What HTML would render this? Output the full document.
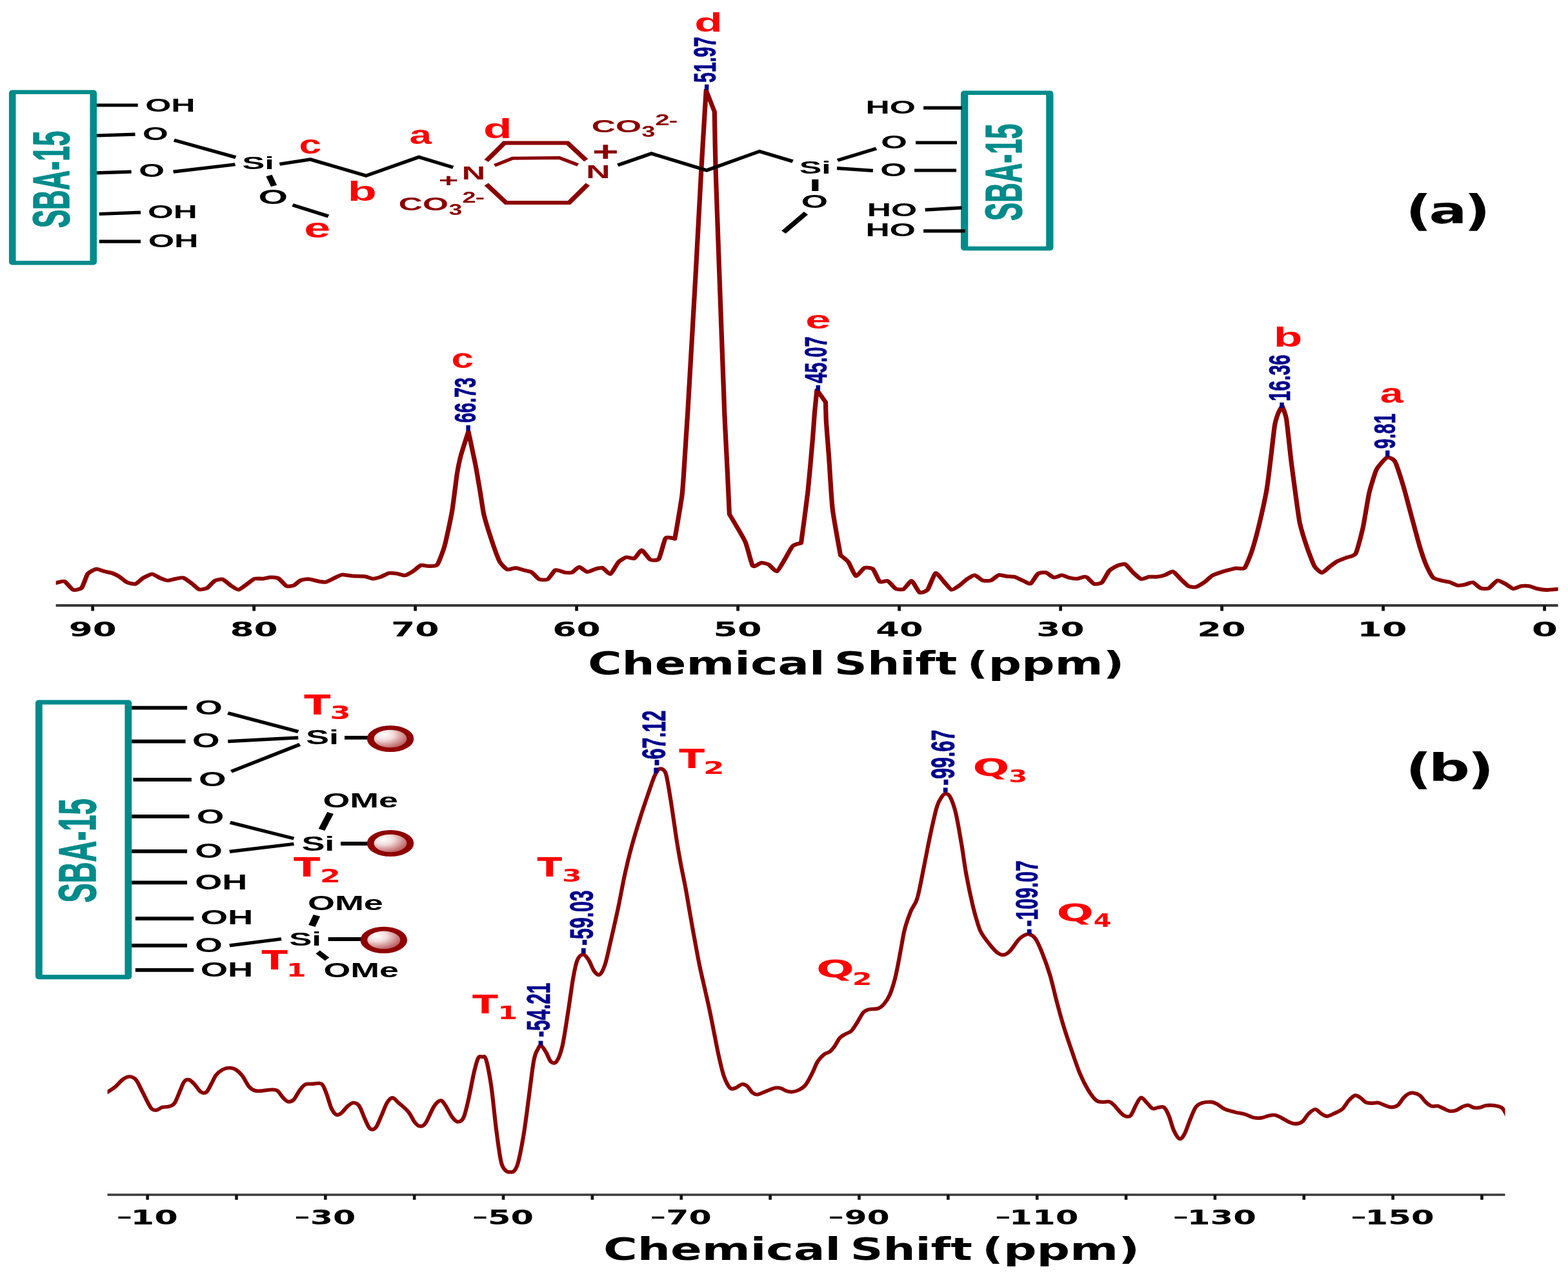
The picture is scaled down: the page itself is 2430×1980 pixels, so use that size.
<!DOCTYPE html>
<html lang="en"><head><meta charset="utf-8"><title>Solid-state NMR spectra</title>
<style>
html,body{margin:0;padding:0;background:#fff}
body{width:2430px;height:1980px;overflow:hidden}
svg{display:block;filter:blur(0.6px)}
text{white-space:pre}
.LB{font-family:"Liberation Sans",sans-serif;font-weight:bold}
.LR{font-family:"Liberation Sans",sans-serif;font-weight:normal}
.DR{font-family:"DejaVu Sans","Liberation Sans",sans-serif;font-weight:normal}
.DB{font-family:"DejaVu Sans","Liberation Sans",sans-serif;font-weight:bold}
</style></head><body>
<svg xmlns="http://www.w3.org/2000/svg" width="2430" height="1980" viewBox="0 0 2430 1980">
<rect width="2430" height="1980" fill="#fff"/>
<defs><clipPath id="ca"><rect x="86.6" y="0" width="2328" height="1000"/></clipPath><clipPath id="cb"><rect x="166.5" y="1000" width="2166" height="980"/></clipPath></defs>
<g clip-path="url(#ca)">
<g transform="scale(1.25,1)"><path d="M64 904.5C64.48 904.38 67.82 903.55 69.28 903.2C70.74 902.85 77.97 899.74 79.92 900.7C81.87 901.66 88.61 912.77 90.56 913.7C92.51 914.63 99.53 913.06 101.2 910.8C102.87 908.54 107.13 891.67 108.8 889C110.47 886.33 117.49 882.02 119.44 881.7C121.39 881.38 128.27 884.92 130.08 885.5C131.89 886.08 137.53 887.25 139.2 888C140.87 888.75 146.65 892.39 148.32 893.7C149.99 895.01 155.63 901.29 157.44 902.3C159.25 903.31 166.27 905.31 168.08 904.7C169.89 904.09 175.32 897.01 177.2 895.6C179.08 894.19 186.69 889.3 188.64 889.3C190.59 889.3 196.67 894.67 198.48 895.6C200.29 896.53 206.59 899.31 208.4 899.4C210.21 899.49 216.5 896.99 218.24 896.6C219.98 896.22 225.55 894.5 227.36 895.2C229.17 895.9 236.19 902.54 238 904.2C239.81 905.86 245.37 912.69 247.12 913.3C248.87 913.9 255.29 912.04 257.04 910.8C258.79 909.56 264.42 901.02 266.16 899.8C267.9 898.58 274.19 896.84 276 897.5C277.81 898.16 284.1 905.51 285.92 907C287.74 908.49 293.96 913.91 295.84 913.7C297.72 913.49 304.67 906.27 306.48 904.7C308.29 903.13 313.79 897.34 315.6 896.6C317.41 895.86 324.43 896.81 326.24 896.6C328.05 896.39 333.62 894.35 335.36 894.3C337.1 894.25 343.39 894.74 345.2 896C347.01 897.26 353.37 906.99 355.12 908C356.87 909.01 362.69 907.78 364.24 907C365.79 906.22 370.73 900.37 372 899.5C373.27 898.63 376.89 897.68 378.08 897.5C379.27 897.32 383.43 897.21 384.96 897.5C386.49 897.79 393.06 900.32 394.8 900.7C396.54 901.09 402.11 902.17 403.92 901.7C405.73 901.23 412.75 896.63 414.56 895.6C416.37 894.57 421.59 890.79 423.68 890.5C425.77 890.21 434.71 892.16 437.36 892.4C440.01 892.64 450.26 892.72 452.56 893.1C454.86 893.49 460.59 896.55 462.4 896.6C464.21 896.65 470.5 894.49 472.32 893.7C474.14 892.91 480.43 888.47 482.24 888C484.05 887.53 490.27 888.29 492.08 888.6C493.89 888.91 500.19 891.71 502 891.4C503.81 891.09 510.03 886.64 511.84 885.2C513.65 883.76 519.95 876.43 521.76 875.7C523.57 874.97 529.72 877.29 531.6 877.2C533.48 877.11 540.43 877.63 542.24 874.7C544.05 871.77 549.69 852.78 551.36 845.2C553.03 837.62 559.09 802.1 560.48 792C561.87 781.9 565.58 742.84 566.56 735C567.54 727.16 569.9 712.6 571.2 706.5C572.5 700.4 580.72 668.5 580.72 668.5C580.72 668.5 588.08 711.09 589.44 719.8C590.8 728.51 594.55 756.36 595.52 763.5C596.49 770.64 598.61 790.56 600 797.7C601.39 804.84 608.9 834.69 610.72 841.4C612.54 848.11 618.17 867.15 619.84 870.9C621.51 874.65 627.15 881.48 628.96 882.3C630.77 883.12 637.65 879.68 639.6 879.8C641.55 879.92 648.43 882.97 650.24 883.6C652.05 884.23 657.69 885.43 659.36 886.7C661.03 887.97 666.67 896.51 668.48 897.5C670.29 898.49 677.31 898.8 679.12 897.5C680.93 896.2 686.69 884.43 688.24 883.3C689.79 882.17 694.87 884.86 696 885.2C697.13 885.54 699.37 886.84 700.56 887C701.75 887.16 707.35 887.78 708.96 887C710.57 886.22 716.34 878.58 718.08 878.5C719.82 878.42 726.11 885.81 727.92 886.1C729.73 886.39 736.09 882.28 737.84 881.7C739.59 881.12 745.22 879.1 746.96 879.8C748.7 880.5 754.99 890.12 756.8 889.3C758.61 888.48 764.91 873.28 766.72 870.9C768.53 868.52 774.75 863.82 776.56 863.3C778.37 862.78 784.73 866.19 786.48 865.2C788.23 864.21 793.79 852.33 795.6 852.5C797.41 852.67 804.29 865.88 806.24 867.1C808.19 868.32 815.14 868.85 816.88 865.8C818.62 862.75 823.39 836.64 825.2 833.8C827.01 830.96 836.64 834.8 836.64 834.8C836.64 834.8 844.57 778.03 845.76 765.4C846.95 752.77 848.98 708.5 849.6 697C850.22 685.5 851.35 665.58 852.56 640C853.77 614.42 861.24 452.83 862.8 418C864.36 383.17 868.44 285.48 869.6 260C870.76 234.52 875.44 140 875.44 140C875.44 140 885.84 173 885.84 173C885.84 173 886.66 237.54 887.2 260C887.74 282.46 890.67 383.17 891.68 418C892.69 452.83 897.36 612.68 898.24 640C899.12 667.32 900.72 701.63 901.28 716C901.84 730.37 904.32 796.8 904.32 796.8C904.32 796.8 921.35 832.18 924 839.5C926.65 846.82 931.38 873.63 933.2 876.6C935.02 879.57 942.03 872.07 943.84 871.9C945.65 871.73 951.19 873.48 952.96 874.7C954.73 875.92 961.31 885.9 963.12 885.2C964.93 884.5 970.94 870.68 972.72 867.1C974.5 863.52 980.68 848.56 982.56 846.2C984.44 843.84 993.2 841.4 993.2 841.4C993.2 841.4 1000.27 776.58 1001.6 761.6C1002.93 746.62 1006.92 689.15 1007.68 678C1008.44 666.85 1009.45 646.76 1009.92 640C1010.39 633.24 1012.8 604.3 1012.8 604.3C1012.8 604.3 1023.6 623 1023.6 623C1023.6 623 1024.03 647.35 1024.4 655C1024.77 662.65 1026.89 694.29 1027.6 706.5C1028.31 718.71 1030.83 774.09 1032.16 788.2C1033.49 802.31 1042.08 860.4 1042.08 860.4C1042.08 860.4 1050.18 867.97 1051.92 870.9C1053.66 873.83 1059.23 891.58 1061.04 892.4C1062.85 893.22 1069.73 880.78 1071.68 879.8C1073.63 878.82 1080.57 879.73 1082.32 881.7C1084.07 883.67 1089.05 899.62 1090.72 901.3C1092.39 902.98 1098.75 899.01 1100.56 900C1102.37 900.99 1108.67 910.94 1110.48 912.1C1112.29 913.26 1118.51 913.81 1120.32 912.7C1122.13 911.59 1128.43 899.53 1130.24 900C1132.05 900.47 1138.27 916.54 1140.08 917.8C1141.89 919.06 1148.19 916.43 1150 913.7C1151.81 910.97 1158.03 889.22 1159.84 888C1161.65 886.78 1167.95 898.04 1169.76 900.4C1171.57 902.76 1177.79 913.1 1179.6 913.7C1181.41 914.31 1187.77 908.49 1189.52 907C1191.27 905.51 1196.89 898.95 1198.64 897.5C1200.39 896.05 1206.75 891.03 1208.56 891.2C1210.37 891.37 1216.59 898.65 1218.4 899.4C1220.21 900.15 1226.51 900.18 1228.32 899.4C1230.13 898.62 1236.35 891.5 1238.16 890.9C1239.97 890.29 1246.27 892.54 1248.08 892.8C1249.89 893.06 1256.11 893.1 1257.92 893.7C1259.73 894.31 1266.03 898.44 1267.84 899.4C1269.65 900.36 1275.94 905.15 1277.68 904.2C1279.42 903.25 1285.05 890.58 1286.8 889C1288.55 887.42 1294.91 886.48 1296.72 887C1298.53 887.52 1304.75 894.32 1306.56 894.7C1308.37 895.09 1314.73 891.17 1316.48 891.2C1318.23 891.23 1323.86 894.5 1325.6 895C1327.34 895.5 1333.75 896.72 1335.44 896.6C1337.13 896.48 1342.86 893.87 1344 893.7C1345.14 893.53 1346.73 893.71 1347.84 894.7C1348.95 895.69 1354.49 903.78 1356.16 904.5C1357.83 905.22 1364.33 904.46 1366.08 902.6C1367.83 900.74 1373.46 886.58 1375.2 884.2C1376.94 881.82 1383.23 877.53 1385.04 876.6C1386.85 875.67 1393.15 873.15 1394.96 874.1C1396.77 875.05 1402.99 884.9 1404.8 887C1406.61 889.1 1412.91 896.39 1414.72 897C1416.53 897.61 1422.75 894 1424.56 893.7C1426.37 893.4 1432.67 893.96 1434.48 893.7C1436.29 893.44 1442.51 891.65 1444.32 890.9C1446.13 890.15 1452.43 884.89 1454.24 885.5C1456.05 886.11 1462.34 895.44 1464.08 897.5C1465.82 899.56 1471.53 906.9 1473.2 908C1474.87 909.1 1480.51 910.02 1482.32 909.5C1484.13 908.98 1491.08 903.92 1492.96 902.3C1494.84 900.68 1501.06 893.2 1502.88 891.8C1504.7 890.4 1510.99 887.78 1512.8 887C1514.61 886.22 1520.83 883.9 1522.64 883.3C1524.45 882.69 1530.68 880.72 1532.56 880.4C1534.44 880.08 1541.39 882.33 1543.2 879.8C1545.01 877.27 1550.65 859.11 1552.32 852.8C1553.99 846.49 1559.77 819.71 1561.44 811C1563.11 802.29 1569.24 767.38 1570.56 757.8C1571.88 748.22 1574.94 715.56 1575.84 706.5C1576.74 697.44 1579.58 665.1 1580.4 659C1581.22 652.9 1583.96 642.75 1584.8 640C1585.64 637.25 1589.6 629 1589.6 629C1589.6 629 1593.84 641.52 1594.88 649.5C1595.92 657.48 1599.85 704.68 1600.96 716C1602.07 727.32 1606.06 764.29 1607.04 773C1608.02 781.71 1610.35 804.03 1611.6 811C1612.85 817.97 1619.05 842.89 1620.72 849C1622.39 855.11 1628.17 874.08 1629.84 877.6C1631.51 881.12 1637.21 887.4 1638.96 887.4C1640.71 887.4 1647.06 879.29 1648.88 877.6C1650.7 875.91 1656.99 870.23 1658.8 869C1660.61 867.77 1666.62 865.25 1668.64 864.2C1670.66 863.16 1678.85 861.95 1680.8 857.6C1682.75 853.25 1688.39 825.33 1689.92 816.7C1691.45 808.07 1695.99 771.69 1697.52 763.5C1699.05 755.31 1704.62 732.41 1706.64 727.4C1708.66 722.39 1717.51 709.94 1719.6 708.8C1721.69 707.66 1727.56 710.86 1729.44 715C1731.32 719.14 1738.13 745.9 1740.08 754C1742.03 762.1 1748.91 795.04 1750.72 803.4C1752.53 811.76 1758.23 838.58 1759.84 845.2C1761.45 851.82 1766.71 871.06 1768.24 875.6C1769.77 880.14 1774.82 892.52 1776.56 894.7C1778.3 896.88 1785.32 898.74 1787.2 899.4C1789.08 900.06 1795.3 901.2 1797.12 901.9C1798.94 902.6 1805.29 906.65 1807.04 907C1808.79 907.35 1814.42 906.13 1816.16 905.7C1817.9 905.27 1824.19 901.78 1826 902.3C1827.81 902.82 1834.11 910.57 1835.92 911.4C1837.73 912.23 1843.88 912.5 1845.76 911.4C1847.64 910.3 1854.52 900.03 1856.4 899.4C1858.28 898.77 1864.51 903.34 1866.32 904.5C1868.13 905.66 1874.35 911.78 1876.16 912.1C1877.97 912.42 1884.27 908.38 1886.08 908C1887.89 907.62 1894.11 907.62 1895.92 908C1897.73 908.38 1903.82 911.55 1905.84 912.1C1907.86 912.65 1915.63 913.95 1918 914C1920.37 914.05 1929.96 912.87 1931.68 912.7C1933.4 912.54 1936.33 912.25 1936.8 912.2" fill="none" stroke="#8b0000" stroke-width="5.8" stroke-linecap="butt" stroke-linejoin="round"/></g>
</g>
<g clip-path="url(#cb)">
<g transform="scale(1.1,1)"><path d="M145.45 1696C146.55 1695.25 149.29 1693.43 152 1691.5C154.71 1689.57 158.2 1687.6 161.73 1684.4C165.26 1681.2 169.73 1675.03 173.18 1672.3C176.64 1669.57 179.38 1667.88 182.45 1668C185.53 1668.12 188.56 1669 191.64 1673C194.71 1677 197.45 1684.82 200.91 1692C204.36 1699.18 209.11 1711.45 212.36 1716.1C215.62 1720.75 217.76 1720.02 220.45 1719.9C223.15 1719.78 225.67 1716.32 228.55 1715.4C231.42 1714.48 234.85 1715.42 237.73 1714.4C240.61 1713.38 243.14 1713.45 245.82 1709.3C248.5 1705.15 251.52 1695.12 253.82 1689.5C256.12 1683.88 257.52 1678.35 259.64 1675.6C261.76 1672.85 264.06 1672.17 266.55 1673C269.03 1673.83 271.86 1677.52 274.55 1680.6C277.23 1683.68 279.94 1689.6 282.64 1691.5C285.33 1693.4 288.23 1694.02 290.73 1692C293.23 1689.98 295.33 1683.83 297.64 1679.4C299.94 1674.97 301.86 1669.12 304.55 1665.4C307.23 1661.68 310.65 1658.92 313.73 1657.1C316.8 1655.28 319.92 1654.5 323 1654.5C326.08 1654.5 329.12 1655.07 332.18 1657.1C335.24 1659.13 338.29 1662.35 341.36 1666.7C344.44 1671.05 347.76 1679.4 350.64 1683.2C353.52 1687 355.58 1688.37 358.64 1689.5C361.7 1690.63 364.97 1690.22 369 1690C373.03 1689.78 379.17 1688.2 382.82 1688.2C386.47 1688.2 388.21 1687.88 390.91 1690C393.61 1692.12 396.5 1698.1 399 1700.9C401.5 1703.7 403.41 1706.37 405.91 1706.8C408.41 1707.23 411.32 1706.38 414 1703.5C416.68 1700.62 419.32 1693.4 422 1689.5C424.68 1685.6 427.02 1681.78 430.09 1680.1C433.17 1678.42 436.62 1679.52 440.45 1679.4C444.29 1679.28 449.83 1676.87 453.09 1679.4C456.35 1681.93 457.68 1688.27 460 1694.6C462.32 1700.93 464.68 1712 467 1717.4C469.32 1722.8 471.61 1725.82 473.91 1727C476.21 1728.18 478.14 1726.73 480.82 1724.5C483.5 1722.27 487.12 1716.27 490 1713.6C492.88 1710.93 495.41 1708.5 498.09 1708.5C500.77 1708.5 503.41 1709.37 506.09 1713.6C508.77 1717.83 511.68 1728.12 514.18 1733.9C516.68 1739.68 518.59 1746.07 521.09 1748.3C523.59 1750.53 526.48 1750.55 529.18 1747.3C531.88 1744.05 534.59 1735.27 537.27 1728.8C539.95 1722.33 542.67 1713.15 545.27 1708.5C547.88 1703.85 550.21 1700.9 552.91 1700.9C555.61 1700.9 557.73 1704.9 561.45 1708.5C565.18 1712.1 571.44 1717.43 575.27 1722.5C579.11 1727.57 581.77 1735.18 584.45 1738.9C587.14 1742.62 588.86 1744.58 591.36 1744.8C593.86 1745.02 596.09 1745.33 599.45 1740.2C602.82 1735.07 608 1719.85 611.55 1714C615.09 1708.15 618.05 1705.32 620.73 1705.1C623.41 1704.88 624.95 1708.48 627.64 1712.7C630.32 1716.92 633.94 1726.18 636.82 1730.4C639.7 1734.62 642.21 1737.78 644.91 1738C647.61 1738.22 650.5 1737.4 653 1731.7C655.5 1726 657.41 1715.63 659.91 1703.8C662.41 1691.97 665.7 1671.47 668 1660.7C670.3 1649.93 671.82 1643.08 673.73 1639.2C675.64 1635.32 677.61 1636.98 679.45 1637.4C681.3 1637.82 682.7 1634 684.82 1641.7C686.94 1649.4 689.8 1665.65 692.18 1683.6C694.56 1701.55 696.79 1729.98 699.09 1749.4C701.39 1768.82 703.7 1789.32 706 1800.1C708.3 1810.88 710.8 1811.48 712.91 1814.1C715.02 1816.72 716.73 1815.8 718.64 1815.8C720.55 1815.8 722.44 1816.72 724.36 1814.1C726.29 1811.48 727.86 1810.03 730.18 1800.1C732.5 1790.17 735.77 1771.38 738.27 1754.5C740.77 1737.62 742.88 1717.38 745.18 1698.8C747.48 1680.22 749.98 1655.25 752.09 1643C754.2 1630.75 756.09 1629.1 757.82 1625.3C759.55 1621.5 760.53 1619.37 762.45 1620.2C764.38 1621.03 767.06 1626.17 769.36 1630.3C771.67 1634.43 773.79 1642.67 776.27 1645C778.76 1647.33 781.59 1648.43 784.27 1644.3C786.95 1640.17 789.67 1633.08 792.36 1620.2C795.06 1607.32 797.95 1584.32 800.45 1567C802.95 1549.68 805.26 1529.4 807.36 1516.3C809.47 1503.2 810.79 1494.65 813.09 1488.4C815.39 1482.15 818.48 1479 821.18 1478.8C823.88 1478.6 826.59 1482.85 829.27 1487.2C831.95 1491.55 834.67 1501.1 837.27 1504.9C839.88 1508.7 842.41 1511.68 844.91 1510C847.41 1508.32 849.86 1502.63 852.27 1494.8C854.68 1486.97 856.26 1477.72 859.36 1463C862.47 1448.28 867.45 1424.37 870.91 1406.5C874.36 1388.63 877.02 1371.28 880.09 1355.8C883.17 1340.32 885.77 1328.23 889.36 1313.6C892.95 1298.97 897.8 1281.52 901.64 1268C905.47 1254.48 909.05 1243.2 912.36 1232.5C915.68 1221.8 919.11 1210.42 921.55 1203.8C923.98 1197.18 925.45 1194.92 927 1192.8C928.55 1190.68 929.29 1190.82 930.82 1191.1C932.35 1191.38 934.77 1192.38 936.18 1194.5C937.59 1196.62 937.86 1196.62 939.27 1203.8C940.68 1210.98 942.97 1226.33 944.64 1237.6C946.3 1248.87 947.74 1260.13 949.27 1271.4C950.8 1282.67 952.17 1293.93 953.82 1305.2C955.47 1316.47 957.26 1327.75 959.18 1339C961.11 1350.25 963.44 1361.45 965.36 1372.7C967.29 1383.95 968.94 1395.23 970.73 1406.5C972.52 1417.77 974.56 1430.88 976.09 1440.3C977.62 1449.72 978.27 1453.45 979.91 1463C981.55 1472.55 982.61 1480.57 985.91 1497.6C989.21 1514.63 995.38 1542.68 999.73 1565.2C1004.08 1587.72 1008.68 1615.82 1012 1632.7C1015.32 1649.58 1017.33 1658.33 1019.64 1666.5C1021.94 1674.67 1024.02 1678.32 1025.82 1681.7C1027.62 1685.08 1028.73 1686.15 1030.45 1686.8C1032.18 1687.45 1033.61 1686.77 1036.18 1685.6C1038.76 1684.43 1043.12 1680.23 1045.91 1679.8C1048.7 1679.37 1050.5 1680.77 1052.91 1683C1055.32 1685.23 1057.88 1691.08 1060.36 1693.2C1062.85 1695.32 1064.55 1696.18 1067.82 1695.7C1071.09 1695.22 1075.94 1691.98 1080 1690.3C1084.06 1688.62 1088.82 1686.3 1092.18 1685.6C1095.55 1684.9 1097.7 1685.38 1100.18 1686.1C1102.67 1686.82 1104.59 1688.97 1107.09 1689.9C1109.59 1690.83 1112.11 1691.92 1115.18 1691.7C1118.26 1691.48 1122.27 1690.38 1125.55 1688.6C1128.82 1686.82 1131.74 1685.22 1134.82 1681C1137.89 1676.78 1141.12 1669.42 1144 1663.3C1146.88 1657.18 1149.21 1649.28 1152.09 1644.3C1154.97 1639.32 1158.39 1635.93 1161.27 1633.4C1164.15 1630.87 1166.86 1631.3 1169.36 1629.1C1171.86 1626.9 1173.97 1623.72 1176.27 1620.2C1178.58 1616.68 1180.7 1611.03 1183.18 1608C1185.67 1604.97 1188.5 1603.77 1191.18 1602C1193.86 1600.23 1196.58 1600.28 1199.27 1597.4C1201.97 1594.52 1204.48 1589.55 1207.36 1584.7C1210.24 1579.85 1213.67 1571.77 1216.55 1568.3C1219.42 1564.83 1221.18 1564.88 1224.64 1563.9C1228.09 1562.92 1233.82 1563.78 1237.27 1562.4C1240.73 1561.02 1242.67 1559.07 1245.36 1555.6C1248.06 1552.13 1250.77 1548.57 1253.45 1541.6C1256.14 1534.63 1258.97 1524.77 1261.45 1513.8C1263.94 1502.83 1266.18 1488.1 1268.36 1475.8C1270.55 1463.5 1272.08 1450.68 1274.55 1440C1277.02 1429.32 1280.21 1419.8 1283.18 1411.7C1286.15 1403.6 1289.29 1402.8 1292.36 1391.4C1295.44 1380 1298.56 1359.77 1301.64 1343.3C1304.71 1326.83 1307.74 1308.23 1310.82 1292.6C1313.89 1276.97 1317.39 1259.22 1320.09 1249.5C1322.79 1239.78 1325.02 1237.58 1327 1234.3C1328.98 1231.02 1330.09 1229.8 1332 1229.8C1333.91 1229.8 1336.03 1229.32 1338.45 1234.3C1340.88 1239.28 1343.85 1247.45 1346.55 1259.7C1349.24 1271.95 1352.14 1291.75 1354.64 1307.8C1357.14 1323.85 1358.86 1339.95 1361.55 1356C1364.23 1372.05 1368.02 1391.43 1370.73 1404.1C1373.44 1416.77 1375.82 1425.1 1377.82 1432C1379.82 1438.9 1380.08 1440.43 1382.73 1445.5C1385.38 1450.57 1390.15 1457.47 1393.73 1462.4C1397.3 1467.33 1400.91 1472.27 1404.18 1475.1C1407.45 1477.93 1410.3 1479.62 1413.36 1479.4C1416.42 1479.18 1418.89 1477.78 1422.55 1473.8C1426.2 1469.82 1431.82 1459.63 1435.27 1455.5C1438.73 1451.37 1440.79 1450.33 1443.27 1449C1445.76 1447.67 1447.68 1446.75 1450.18 1447.5C1452.68 1448.25 1455.39 1449.08 1458.27 1453.5C1461.15 1457.92 1463.98 1464.58 1467.45 1474C1470.92 1483.42 1475.48 1496.83 1479.09 1510C1482.7 1523.17 1485.88 1539.75 1489.09 1553C1492.3 1566.25 1494.91 1577.08 1498.36 1589.5C1501.82 1601.92 1505.98 1615.25 1509.82 1627.5C1513.65 1639.75 1517.52 1652.85 1521.36 1663C1525.21 1673.15 1529.08 1681.43 1532.91 1688.4C1536.74 1695.37 1540.91 1701.63 1544.36 1704.8C1547.82 1707.97 1550.56 1707.05 1553.64 1707.4C1556.71 1707.75 1560.14 1706.07 1562.82 1706.9C1565.5 1707.73 1567.23 1709.78 1569.73 1712.4C1572.23 1715.02 1575.32 1719.85 1577.82 1722.6C1580.32 1725.35 1582.23 1727.93 1584.73 1728.9C1587.23 1729.87 1590.14 1731.35 1592.82 1728.4C1595.5 1725.45 1598.33 1715.85 1600.82 1711.2C1603.3 1706.55 1605.23 1700.93 1607.73 1700.5C1610.23 1700.07 1613.12 1705.77 1615.82 1708.6C1618.52 1711.43 1621.23 1716.32 1623.91 1717.5C1626.59 1718.68 1629.23 1716 1631.91 1715.7C1634.59 1715.4 1637.5 1713.5 1640 1715.7C1642.5 1717.9 1644.61 1722.9 1646.91 1728.9C1649.21 1734.9 1651.32 1745.78 1653.82 1751.7C1656.32 1757.62 1659.41 1763.55 1661.91 1764.4C1664.41 1765.25 1666.32 1761.87 1668.82 1756.8C1671.32 1751.73 1674.23 1740.97 1676.91 1734C1679.59 1727.03 1682.03 1719.23 1684.91 1715C1687.79 1710.77 1690.53 1709.87 1694.18 1708.6C1697.83 1707.33 1703.36 1707.05 1706.82 1707.4C1710.27 1707.75 1711.83 1708.88 1714.91 1710.7C1717.98 1712.52 1721.06 1716.23 1725.27 1718.3C1729.48 1720.37 1735.39 1721.75 1740.18 1723.1C1744.97 1724.45 1749.77 1725.02 1754 1726.4C1758.23 1727.78 1761.7 1730.48 1765.55 1731.4C1769.39 1732.32 1773.64 1732.32 1777.09 1731.9C1780.55 1731.48 1783.2 1729.62 1786.27 1728.9C1789.35 1728.18 1792.47 1727.18 1795.55 1727.6C1798.62 1728.02 1801.27 1729.58 1804.73 1731.4C1808.18 1733.22 1812.82 1736.88 1816.27 1738.5C1819.73 1740.12 1822.39 1741.22 1825.45 1741.1C1828.52 1740.98 1831.56 1740.47 1834.64 1737.8C1837.71 1735.13 1840.83 1728.27 1843.91 1725.1C1846.98 1721.93 1850.21 1718.8 1853.09 1718.8C1855.97 1718.8 1858.48 1723.33 1861.18 1725.1C1863.88 1726.87 1866.2 1729.4 1869.27 1729.4C1872.35 1729.4 1876 1726.95 1879.64 1725.1C1883.27 1723.25 1887.64 1721.68 1891.09 1718.3C1894.55 1714.92 1897.41 1708.32 1900.36 1704.8C1903.32 1701.28 1906.14 1697.92 1908.82 1697.2C1911.5 1696.48 1913.83 1698.68 1916.45 1700.5C1919.08 1702.32 1921.67 1706.67 1924.55 1708.1C1927.42 1709.53 1930.88 1709.03 1933.73 1709.1C1936.58 1709.17 1938.77 1707.97 1941.64 1708.5C1944.5 1709.03 1947.83 1711.15 1950.91 1712.3C1953.98 1713.45 1957.03 1715.4 1960.09 1715.4C1963.15 1715.4 1966.39 1714.72 1969.27 1712.3C1972.15 1709.88 1974.86 1703.85 1977.36 1700.9C1979.86 1697.95 1981.97 1695.87 1984.27 1694.6C1986.58 1693.33 1988.5 1692.88 1991.18 1693.3C1993.86 1693.72 1997.48 1694.77 2000.36 1697.1C2003.24 1699.43 2005.76 1704.55 2008.45 1707.3C2011.15 1710.05 2013.67 1712.55 2016.55 1713.6C2019.42 1714.65 2022.85 1712.97 2025.73 1713.6C2028.61 1714.23 2031.12 1716.13 2033.82 1717.4C2036.52 1718.67 2039.03 1720.7 2041.91 1721.2C2044.79 1721.7 2048.03 1721.45 2051.09 1720.4C2054.15 1719.35 2057.39 1716.25 2060.27 1714.9C2063.15 1713.55 2065.67 1712.1 2068.36 1712.3C2071.06 1712.5 2073.77 1715.47 2076.45 1716.1C2079.14 1716.73 2081.58 1716.65 2084.45 1716.1C2087.33 1715.55 2090.27 1713.35 2093.73 1712.8C2097.18 1712.25 2101.55 1712.25 2105.18 1712.8C2108.82 1713.35 2113.05 1714.48 2115.55 1716.1C2118.05 1717.72 2118.83 1720.18 2120.18 1722.5C2121.53 1724.82 2123.06 1728.75 2123.64 1730" fill="none" stroke="#8b0000" stroke-width="5.6" stroke-linecap="butt" stroke-linejoin="round"/></g>
</g>
<rect x="86.6" y="936" width="2328" height="4" fill="#3a3a3a"/>
<rect x="141.2" y="938" width="4.8" height="8.5" fill="#111"/>
<rect x="391.2" y="938" width="4.8" height="8.5" fill="#111"/>
<rect x="641.2" y="938" width="4.8" height="8.5" fill="#111"/>
<rect x="891.2" y="938" width="4.8" height="8.5" fill="#111"/>
<rect x="1141.2" y="938" width="4.8" height="8.5" fill="#111"/>
<rect x="1391.2" y="938" width="4.8" height="8.5" fill="#111"/>
<rect x="1641.2" y="938" width="4.8" height="8.5" fill="#111"/>
<rect x="1891.2" y="938" width="4.8" height="8.5" fill="#111"/>
<rect x="2141.2" y="938" width="4.8" height="8.5" fill="#111"/>
<rect x="2391.2" y="938" width="4.8" height="8.5" fill="#111"/>
<rect x="166.5" y="1849.3" width="2166" height="3.5" fill="#3a3a3a"/>
<rect x="226.3" y="1851" width="4.6" height="7.8" fill="#111"/>
<rect x="364.16" y="1851" width="4.6" height="7.8" fill="#111"/>
<rect x="502.02" y="1851" width="4.6" height="7.8" fill="#111"/>
<rect x="639.88" y="1851" width="4.6" height="7.8" fill="#111"/>
<rect x="777.74" y="1851" width="4.6" height="7.8" fill="#111"/>
<rect x="915.6" y="1851" width="4.6" height="7.8" fill="#111"/>
<rect x="1053.46" y="1851" width="4.6" height="7.8" fill="#111"/>
<rect x="1191.32" y="1851" width="4.6" height="7.8" fill="#111"/>
<rect x="1329.18" y="1851" width="4.6" height="7.8" fill="#111"/>
<rect x="1467.04" y="1851" width="4.6" height="7.8" fill="#111"/>
<rect x="1604.9" y="1851" width="4.6" height="7.8" fill="#111"/>
<rect x="1742.76" y="1851" width="4.6" height="7.8" fill="#111"/>
<rect x="1880.62" y="1851" width="4.6" height="7.8" fill="#111"/>
<rect x="2018.48" y="1851" width="4.6" height="7.8" fill="#111"/>
<rect x="2156.34" y="1851" width="4.6" height="7.8" fill="#111"/>
<rect x="2294.2" y="1851" width="4.6" height="7.8" fill="#111"/>
<text transform="translate(106.82,985.82) scale(1.6529,1)" font-size="32.08" fill="#000" class="DB">90</text>
<text transform="translate(356.4,985.82) scale(1.6626,1)" font-size="32.08" fill="#000" class="DB">80</text>
<text transform="translate(605.98,985.82) scale(1.6723,1)" font-size="32.08" fill="#000" class="DB">70</text>
<text transform="translate(856.26,985.82) scale(1.6658,1)" font-size="32.08" fill="#000" class="DB">60</text>
<text transform="translate(1105.41,985.82) scale(1.6856,1)" font-size="32.08" fill="#000" class="DB">50</text>
<text transform="translate(1357.23,985.82) scale(1.6433,1)" font-size="32.08" fill="#000" class="DB">40</text>
<text transform="translate(1605.98,985.82) scale(1.6723,1)" font-size="32.08" fill="#000" class="DB">30</text>
<text transform="translate(1855.27,985.82) scale(1.6889,1)" font-size="32.08" fill="#000" class="DB">20</text>
<text transform="translate(2103.34,985.82) scale(1.7335,1)" font-size="32.08" fill="#000" class="DB">10</text>
<text transform="translate(2373.64,985.82) scale(1.8080,1)" font-size="32.08" fill="#000" class="DB">0</text>
<text transform="translate(179.89,1892.99) scale(2.5972,1)" font-size="23.86" fill="#000" class="DB">-</text>
<text transform="translate(202.58,1896.52) scale(1.6602,1)" font-size="31.68" fill="#000" class="DB">10</text>
<text transform="translate(455.61,1892.99) scale(2.5972,1)" font-size="23.86" fill="#000" class="DB">-</text>
<text transform="translate(480.79,1896.52) scale(1.6016,1)" font-size="31.68" fill="#000" class="DB">30</text>
<text transform="translate(731.33,1892.99) scale(2.5972,1)" font-size="23.86" fill="#000" class="DB">-</text>
<text transform="translate(755.98,1896.52) scale(1.6143,1)" font-size="31.68" fill="#000" class="DB">50</text>
<text transform="translate(1007.05,1892.99) scale(2.5972,1)" font-size="23.86" fill="#000" class="DB">-</text>
<text transform="translate(1032.23,1896.52) scale(1.6016,1)" font-size="31.68" fill="#000" class="DB">70</text>
<text transform="translate(1282.77,1892.99) scale(2.5972,1)" font-size="23.86" fill="#000" class="DB">-</text>
<text transform="translate(1308.75,1896.52) scale(1.5830,1)" font-size="31.68" fill="#000" class="DB">90</text>
<text transform="translate(1541.39,1892.99) scale(2.5972,1)" font-size="23.86" fill="#000" class="DB">-</text>
<text transform="translate(1564.12,1896.52) scale(1.6227,1)" font-size="31.68" fill="#000" class="DB">110</text>
<text transform="translate(1817.11,1892.99) scale(2.5972,1)" font-size="23.86" fill="#000" class="DB">-</text>
<text transform="translate(1839.84,1896.52) scale(1.6227,1)" font-size="31.68" fill="#000" class="DB">130</text>
<text transform="translate(2092.83,1892.99) scale(2.5972,1)" font-size="23.86" fill="#000" class="DB">-</text>
<text transform="translate(2115.56,1896.52) scale(1.6227,1)" font-size="31.68" fill="#000" class="DB">150</text>
<text transform="translate(910.91,1044.6) scale(1.4307,1)" font-size="50.2" fill="#000" class="DB">Chemical</text>
<text transform="translate(1292.86,1044.6) scale(1.4115,1)" font-size="50.2" fill="#000" class="DB">Shift</text>
<text transform="translate(1498.48,1044.6) scale(1.4351,1)" font-size="50.2" fill="#000" class="DB">(ppm)</text>
<text transform="translate(934.9,1952.1) scale(1.4746,1)" font-size="48.8" fill="#000" class="DB">Chemical</text>
<text transform="translate(1317.7,1952.1) scale(1.4425,1)" font-size="48.8" fill="#000" class="DB">Shift</text>
<text transform="translate(1521.97,1952.1) scale(1.4769,1)" font-size="48.8" fill="#000" class="DB">(ppm)</text>
<text transform="translate(2178.34,349.27) scale(1.3546,1)" font-size="65.62" fill="#000" class="DB">(</text>
<text transform="translate(2214.59,345.75) scale(1.5509,1)" font-size="56.35" fill="#000" class="DB">a</text>
<text transform="translate(2268.89,349.27) scale(1.3546,1)" font-size="65.62" fill="#000" class="DB">)</text>
<text transform="translate(2178.34,1213.53) scale(1.3477,1)" font-size="65.96" fill="#000" class="DB">(</text>
<text transform="translate(2213.69,1209.92) scale(1.5308,1)" font-size="58.71" fill="#000" class="DB">b</text>
<text transform="translate(2274.46,1213.53) scale(1.3529,1)" font-size="65.96" fill="#000" class="DB">)</text>
<rect x="13.9" y="139.4" width="136.1" height="271.1" rx="5" fill="#008b8b"/>
<rect x="24.5" y="145.9" width="114.9" height="258.1" fill="#fff"/>
<rect x="1489" y="140.5" width="143.5" height="247.7" rx="5" fill="#008b8b"/>
<rect x="1500.3" y="147" width="120.9" height="234.7" fill="#fff"/>
<text transform="translate(106.61,353.09) rotate(-90) scale(0.5341,1)" font-size="79.15" fill="#008b8b" class="LB" stroke="#008b8b" stroke-width="1.4" stroke-linejoin="round">SBA-15</text>
<text transform="translate(1583.1,341.9) rotate(-90) scale(0.5265,1)" font-size="80.14" fill="#008b8b" class="LB" stroke="#008b8b" stroke-width="1.4" stroke-linejoin="round">SBA-15</text>
<g transform="scale(1.3,1)"><path d="M115.38 163L164.38 163" fill="none" stroke="#000" stroke-width="5.2" stroke-linecap="butt" stroke-linejoin="round"/></g>
<g transform="scale(1.3,1)"><path d="M115.38 210L161.15 208.1" fill="none" stroke="#000" stroke-width="5.2" stroke-linecap="butt" stroke-linejoin="round"/></g>
<g transform="scale(1.3,1)"><path d="M115.38 267.8L156.62 266.1" fill="none" stroke="#000" stroke-width="5.2" stroke-linecap="butt" stroke-linejoin="round"/></g>
<g transform="scale(1.3,1)"><path d="M118.23 331.5L167.69 329.1" fill="none" stroke="#000" stroke-width="5.2" stroke-linecap="butt" stroke-linejoin="round"/></g>
<g transform="scale(1.3,1)"><path d="M118.23 374.2L167.69 374.2" fill="none" stroke="#000" stroke-width="5.2" stroke-linecap="butt" stroke-linejoin="round"/></g>
<g transform="scale(1.3,1)"><path d="M207.54 217.1L281 243.8" fill="none" stroke="#000" stroke-width="5.2" stroke-linecap="butt" stroke-linejoin="round"/></g>
<g transform="scale(1.3,1)"><path d="M206.62 266.1L280.38 254.8" fill="none" stroke="#000" stroke-width="5.2" stroke-linecap="butt" stroke-linejoin="round"/></g>
<g transform="scale(1.3,1)"><path d="M348.85 317.6L391.46 335" fill="none" stroke="#000" stroke-width="5.2" stroke-linecap="butt" stroke-linejoin="round"/></g>
<g transform="scale(1.3,1)"><path d="M998.46 248.3L1044.62 230.1" fill="none" stroke="#000" stroke-width="5.2" stroke-linecap="butt" stroke-linejoin="round"/></g>
<g transform="scale(1.3,1)"><path d="M997.77 260.7L1040.69 264.4" fill="none" stroke="#000" stroke-width="5.2" stroke-linecap="butt" stroke-linejoin="round"/></g>
<g transform="scale(1.3,1)"><path d="M1091.62 221L1140.77 221" fill="none" stroke="#000" stroke-width="5.2" stroke-linecap="butt" stroke-linejoin="round"/></g>
<g transform="scale(1.3,1)"><path d="M1090.08 264L1140.08 264" fill="none" stroke="#000" stroke-width="5.2" stroke-linecap="butt" stroke-linejoin="round"/></g>
<g transform="scale(1.3,1)"><path d="M1100.85 167.2L1146.62 167.2" fill="none" stroke="#000" stroke-width="5.2" stroke-linecap="butt" stroke-linejoin="round"/></g>
<g transform="scale(1.3,1)"><path d="M1102.85 325.2L1146.62 321.8" fill="none" stroke="#000" stroke-width="5.2" stroke-linecap="butt" stroke-linejoin="round"/></g>
<g transform="scale(1.3,1)"><path d="M1100.85 357.8L1150.54 357.8" fill="none" stroke="#000" stroke-width="5.2" stroke-linecap="butt" stroke-linejoin="round"/></g>
<g transform="scale(1.3,1)"><path d="M333.31 254.2L370.08 247L436.31 272.3L499.31 243.3L540.15 259.3" fill="none" stroke="#000" stroke-width="5.2" stroke-linecap="butt" stroke-linejoin="miter"/></g>
<g transform="scale(1.3,1)"><path d="M736.46 255.9L776.54 237.9L842.38 263.9L905.46 234.5L945.08 250" fill="none" stroke="#000" stroke-width="5.2" stroke-linecap="butt" stroke-linejoin="miter"/></g>
<g transform="scale(1.3,1)"><path d="M320.69 272L326.54 288" fill="none" stroke="#000" stroke-width="7.5" stroke-linecap="butt" stroke-linejoin="round"/></g>
<g transform="scale(1.3,1)"><path d="M960.77 330.3L934.15 359.8" fill="none" stroke="#000" stroke-width="6.5" stroke-linecap="butt" stroke-linejoin="round"/></g>
<rect x="1258.3" y="277.9" width="10.1" height="18.1" fill="#000"/>
<g transform="scale(1.3,1)"><path d="M579.77 249.2L601.23 221.5L676.62 221.5L698.69 248.3" fill="none" stroke="#8b0000" stroke-width="6.2" stroke-linecap="butt" stroke-linejoin="miter"/></g>
<g transform="scale(1.3,1)"><path d="M589.54 256.4L611 245.3L666.85 244.6L689 255.4" fill="none" stroke="#8b0000" stroke-width="5" stroke-linecap="butt" stroke-linejoin="miter"/></g>
<g transform="scale(1.3,1)"><path d="M579.77 285.5L603.23 314L678.54 314L700.69 285.5" fill="none" stroke="#8b0000" stroke-width="6.2" stroke-linecap="butt" stroke-linejoin="miter"/></g>
<text transform="translate(225.14,172.8) scale(1.7047,1)" font-size="30.25" fill="#000" class="LB">OH</text>
<text transform="translate(220.96,216.81) scale(1.7802,1)" font-size="28.69" fill="#000" class="LB">O</text>
<text transform="translate(215.36,274.21) scale(1.7802,1)" font-size="28.69" fill="#000" class="LB">O</text>
<text transform="translate(229.05,338.4) scale(1.7169,1)" font-size="29.82" fill="#000" class="LB">OH</text>
<text transform="translate(229.72,383.2) scale(1.7410,1)" font-size="29.82" fill="#000" class="LB">OH</text>
<text transform="translate(375.23,262.43) scale(1.9363,1)" font-size="27.07" fill="#000" class="LB">Si</text>
<text transform="translate(400.46,316.48) scale(1.8127,1)" font-size="32.23" fill="#000" class="LB">O</text>
<text transform="translate(1238.64,268.63) scale(1.8954,1)" font-size="27.35" fill="#000" class="LB">Si</text>
<text transform="translate(1365.21,230.3) scale(1.7513,1)" font-size="29.82" fill="#000" class="LB">O</text>
<text transform="translate(1364.31,273.41) scale(1.7938,1)" font-size="29.12" fill="#000" class="LB">O</text>
<text transform="translate(1341.51,176.21) scale(1.7741,1)" font-size="29.12" fill="#000" class="LB">HO</text>
<text transform="translate(1343.81,334.7) scale(1.7320,1)" font-size="29.82" fill="#000" class="LB">HO</text>
<text transform="translate(1341.51,366.31) scale(1.8003,1)" font-size="28.69" fill="#000" class="LB">HO</text>
<text transform="translate(1241.78,322.41) scale(1.8504,1)" font-size="28.69" fill="#000" class="LB">O</text>
<text transform="translate(463.41,237.8) scale(1.5519,1)" font-size="40.18" fill="#ff0000" class="LB">c</text>
<text transform="translate(634.54,223.4) scale(1.5493,1)" font-size="40" fill="#ff0000" class="LB">a</text>
<text transform="translate(538.81,311.27) scale(1.7298,1)" font-size="42.59" fill="#ff0000" class="LB">b</text>
<text transform="translate(471.36,367.88) scale(1.7668,1)" font-size="41.64" fill="#ff0000" class="LB">e</text>
<text transform="translate(749.08,213.77) scale(1.6889,1)" font-size="43.27" fill="#ff0000" class="LB">d</text>
<text transform="translate(1076.15,48.99) scale(1.7236,1)" font-size="41.36" fill="#ff0000" class="LB">d</text>
<text transform="translate(699.51,570.28) scale(1.4974,1)" font-size="41.64" fill="#ff0000" class="LB">c</text>
<text transform="translate(1248.18,508.9) scale(1.7779,1)" font-size="39.63" fill="#ff0000" class="LB">e</text>
<text transform="translate(1973.65,537.38) scale(1.7213,1)" font-size="42.45" fill="#ff0000" class="LB">b</text>
<text transform="translate(2138.77,624.08) scale(1.5400,1)" font-size="41.83" fill="#ff0000" class="LB">a</text>
<text transform="translate(715.7,277.9) scale(1.7063,1)" font-size="29.53" fill="#8b0000" class="LB">N</text>
<text transform="translate(679.67,289.39) scale(1.8558,1)" font-size="28.24" fill="#8b0000" class="LB">+</text>
<text transform="translate(617.84,325.7) scale(1.7268,1)" font-size="29.82" fill="#8b0000" class="LB">CO</text>
<text transform="translate(695.46,332.5) scale(1.5707,1)" font-size="23.8" fill="#8b0000" class="LB">3</text>
<text transform="translate(716.48,314.2) scale(1.5945,1)" font-size="23.66" fill="#8b0000" class="LB">2</text>
<text transform="translate(736.53,314.07) scale(1.9010,1)" font-size="23.33" fill="#8b0000" class="LB">-</text>
<text transform="translate(908.31,276.2) scale(1.7967,1)" font-size="28.8" fill="#8b0000" class="LB">N</text>
<text transform="translate(918.03,249.04) scale(1.6713,1)" font-size="41.76" fill="#8b0000" class="LB">+</text>
<text transform="translate(916.83,204.91) scale(1.8087,1)" font-size="28.55" fill="#8b0000" class="LB">CO</text>
<text transform="translate(994.14,212.21) scale(1.6434,1)" font-size="23.24" fill="#8b0000" class="LB">3</text>
<text transform="translate(1015.19,194.3) scale(1.6894,1)" font-size="23.8" fill="#8b0000" class="LB">2</text>
<text transform="translate(1036.54,194.97) scale(1.7822,1)" font-size="23.33" fill="#8b0000" class="LB">-</text>
<text transform="translate(1108.58,127.88) rotate(-90) scale(0.5976,1)" font-size="47.49" fill="#00008b" class="LB" stroke="#00008b" stroke-width="0.9" stroke-linejoin="round">51.97</text>
<rect x="1092" y="130.9" width="6.4" height="8.6" fill="#00008b"/>
<text transform="translate(737.27,655.08) rotate(-90) scale(0.6053,1)" font-size="46.34" fill="#00008b" class="LB" stroke="#00008b" stroke-width="0.9" stroke-linejoin="round">66.73</text>
<rect x="722.4" y="658.8" width="6.4" height="8.7" fill="#00008b"/>
<text transform="translate(1281.27,593.66) rotate(-90) scale(0.5997,1)" font-size="48.06" fill="#00008b" class="LB" stroke="#00008b" stroke-width="0.9" stroke-linejoin="round">45.07</text>
<rect x="1264.6" y="596.8" width="6.4" height="8.2" fill="#00008b"/>
<text transform="translate(1998.97,621.73) rotate(-90) scale(0.6184,1)" font-size="46.76" fill="#00008b" class="LB" stroke="#00008b" stroke-width="0.9" stroke-linejoin="round">16.36</text>
<rect x="1983.3" y="623.6" width="6.4" height="8.4" fill="#00008b"/>
<text transform="translate(2161.78,695.31) rotate(-90) scale(0.6027,1)" font-size="46.5" fill="#00008b" class="LB" stroke="#00008b" stroke-width="0.9" stroke-linejoin="round">9.81</text>
<rect x="2147.1" y="697.9" width="6.4" height="9.6" fill="#00008b"/>
<text transform="translate(852.15,1606.92) rotate(-90) scale(0.5893,1)" font-size="50.32" fill="#00008b" class="LB" stroke="#00008b" stroke-width="0.9" stroke-linejoin="round">-54.21</text>
<rect x="834.6" y="1612.6" width="6.8" height="6.9" fill="#00008b"/>
<text transform="translate(918.53,1464.93) rotate(-90) scale(0.6094,1)" font-size="49.44" fill="#00008b" class="LB" stroke="#00008b" stroke-width="0.9" stroke-linejoin="round">-59.03</text>
<rect x="900.9" y="1469" width="6.8" height="8" fill="#00008b"/>
<text transform="translate(1031.34,1186.44) rotate(-90) scale(0.5982,1)" font-size="50.6" fill="#00008b" class="LB" stroke="#00008b" stroke-width="0.9" stroke-linejoin="round">-67.12</text>
<rect x="1013.3" y="1189.4" width="6.8" height="8.6" fill="#00008b"/>
<text transform="translate(1479.45,1216.94) rotate(-90) scale(0.6133,1)" font-size="49.61" fill="#00008b" class="LB" stroke="#00008b" stroke-width="0.9" stroke-linejoin="round">-99.67</text>
<rect x="1461.8" y="1220.4" width="6.8" height="7.1" fill="#00008b"/>
<text transform="translate(1607.76,1435.43) rotate(-90) scale(0.6154,1)" font-size="48.9" fill="#00008b" class="LB" stroke="#00008b" stroke-width="0.9" stroke-linejoin="round">-109.07</text>
<rect x="1591.8" y="1439.6" width="6.8" height="7.6" fill="#00008b"/>
<rect x="54.9" y="1084.5" width="149.3" height="432.7" rx="5" fill="#008b8b"/>
<rect x="65.7" y="1091.5" width="127.7" height="418.7" fill="#fff"/>
<text transform="translate(147.78,1398.47) rotate(-90) scale(0.5519,1)" font-size="82.12" fill="#008b8b" class="LB" stroke="#008b8b" stroke-width="1.4" stroke-linejoin="round">SBA-15</text>
<path d="M204.2 1096.7L290 1096.7" fill="none" stroke="#000" stroke-width="5.8" stroke-linecap="butt" stroke-linejoin="round"/>
<path d="M204.2 1148.7L287.5 1148.7" fill="none" stroke="#000" stroke-width="5.8" stroke-linecap="butt" stroke-linejoin="round"/>
<path d="M206.4 1207.8L296.8 1207.8" fill="none" stroke="#000" stroke-width="5.8" stroke-linecap="butt" stroke-linejoin="round"/>
<path d="M204.2 1264.9L293.4 1264.9" fill="none" stroke="#000" stroke-width="5.8" stroke-linecap="butt" stroke-linejoin="round"/>
<path d="M204.2 1318.8L290 1318.8" fill="none" stroke="#000" stroke-width="5.8" stroke-linecap="butt" stroke-linejoin="round"/>
<path d="M204.2 1367.4L290 1367.4" fill="none" stroke="#000" stroke-width="5.8" stroke-linecap="butt" stroke-linejoin="round"/>
<path d="M209.8 1423.1L300.2 1423.1" fill="none" stroke="#000" stroke-width="5.8" stroke-linecap="butt" stroke-linejoin="round"/>
<path d="M204.2 1464.9L290 1464.9" fill="none" stroke="#000" stroke-width="5.8" stroke-linecap="butt" stroke-linejoin="round"/>
<path d="M209.8 1502.9L300.2 1502.9" fill="none" stroke="#000" stroke-width="5.8" stroke-linecap="butt" stroke-linejoin="round"/>
<path d="M534 1142.8L571 1142.8" fill="none" stroke="#000" stroke-width="5.8" stroke-linecap="butt" stroke-linejoin="round"/>
<path d="M528 1307L571 1307" fill="none" stroke="#000" stroke-width="5.8" stroke-linecap="butt" stroke-linejoin="round"/>
<path d="M508.6 1455L561 1455" fill="none" stroke="#000" stroke-width="5.8" stroke-linecap="butt" stroke-linejoin="round"/>
<g transform="scale(1.3,1)"><path d="M271.69 1104.8L355.54 1133.5" fill="none" stroke="#000" stroke-width="5.2" stroke-linecap="butt" stroke-linejoin="round"/></g>
<g transform="scale(1.3,1)"><path d="M271.69 1148.7L355.54 1142.8" fill="none" stroke="#000" stroke-width="5.2" stroke-linecap="butt" stroke-linejoin="round"/></g>
<g transform="scale(1.3,1)"><path d="M275.62 1195.2L357.46 1153.4" fill="none" stroke="#000" stroke-width="5.2" stroke-linecap="butt" stroke-linejoin="round"/></g>
<g transform="scale(1.3,1)"><path d="M274.31 1274.2L350.31 1299.1" fill="none" stroke="#000" stroke-width="5.2" stroke-linecap="butt" stroke-linejoin="round"/></g>
<g transform="scale(1.3,1)"><path d="M273.69 1319.4L350.31 1307.5" fill="none" stroke="#000" stroke-width="5.2" stroke-linecap="butt" stroke-linejoin="round"/></g>
<g transform="scale(1.3,1)"><path d="M273.69 1464.9L335.38 1454.7" fill="none" stroke="#000" stroke-width="5.2" stroke-linecap="butt" stroke-linejoin="round"/></g>
<g transform="scale(1.3,1)"><path d="M393.85 1259.4L383.46 1285.5" fill="none" stroke="#000" stroke-width="8" stroke-linecap="butt" stroke-linejoin="round"/></g>
<g transform="scale(1.3,1)"><path d="M377.62 1418.4L371.77 1434.5" fill="none" stroke="#000" stroke-width="8.5" stroke-linecap="butt" stroke-linejoin="round"/></g>
<g transform="scale(1.3,1)"><path d="M378.92 1475L390 1486" fill="none" stroke="#000" stroke-width="7" stroke-linecap="butt" stroke-linejoin="round"/></g>
<defs><radialGradient id="bg" cx="0.3" cy="0.28" r="0.85" fx="0.3" fy="0.28"><stop offset="0" stop-color="#fff"/><stop offset="0.35" stop-color="#f3dcdc"/><stop offset="1" stop-color="#b24a4a"/></radialGradient></defs>
<ellipse cx="605" cy="1144.5" rx="36.3" ry="20.6" fill="#8f0000"/>
<ellipse cx="605" cy="1144.5" rx="25.5" ry="13.8" fill="url(#bg)"/>
<ellipse cx="605" cy="1306.5" rx="36.3" ry="20.6" fill="#8f0000"/>
<ellipse cx="605" cy="1306.5" rx="25.5" ry="13.8" fill="url(#bg)"/>
<ellipse cx="594.8" cy="1456.4" rx="36.3" ry="20.6" fill="#8f0000"/>
<ellipse cx="594.8" cy="1456.4" rx="25.5" ry="13.8" fill="url(#bg)"/>
<text transform="translate(302.21,1106.98) scale(1.6966,1)" font-size="32.23" fill="#000" class="LB">O</text>
<text transform="translate(298.01,1158.49) scale(1.7664,1)" font-size="30.95" fill="#000" class="LB">O</text>
<text transform="translate(308.11,1217.68) scale(1.6966,1)" font-size="32.23" fill="#000" class="LB">O</text>
<text transform="translate(304.81,1275.58) scale(1.7193,1)" font-size="31.8" fill="#000" class="LB">O</text>
<text transform="translate(302.21,1328.59) scale(1.7583,1)" font-size="31.1" fill="#000" class="LB">O</text>
<text transform="translate(302.24,1377.58) scale(1.6685,1)" font-size="32.37" fill="#000" class="LB">OH</text>
<text transform="translate(310.63,1432.49) scale(1.7483,1)" font-size="31.1" fill="#000" class="LB">OH</text>
<text transform="translate(302.21,1474.69) scale(1.7583,1)" font-size="31.1" fill="#000" class="LB">O</text>
<text transform="translate(310.63,1512.69) scale(1.7483,1)" font-size="31.1" fill="#000" class="LB">OH</text>
<text transform="translate(474.08,1152.58) scale(1.6807,1)" font-size="32.11" fill="#000" class="LB">Si</text>
<text transform="translate(467.38,1317.59) scale(1.7320,1)" font-size="31.16" fill="#000" class="LB">Si</text>
<text transform="translate(447.91,1464.6) scale(1.7713,1)" font-size="29.93" fill="#000" class="LB">Si</text>
<text transform="translate(500.55,1251.48) scale(1.6668,1)" font-size="32.23" fill="#000" class="LB">OMe</text>
<text transform="translate(476.94,1410.48) scale(1.6742,1)" font-size="32.23" fill="#000" class="LB">OMe</text>
<text transform="translate(501.45,1514.38) scale(1.6654,1)" font-size="32.23" fill="#000" class="LB">OMe</text>
<text transform="translate(471.2,1106.5) scale(1.4182,1)" font-size="42.47" fill="#ff0000" class="DB">T</text>
<text transform="translate(511.5,1114.48) scale(1.6514,1)" font-size="27.85" fill="#ff0000" class="DB">3</text>
<text transform="translate(455.1,1358.4) scale(1.4939,1)" font-size="40.41" fill="#ff0000" class="DB">T</text>
<text transform="translate(495.7,1366.9) scale(1.6267,1)" font-size="28.42" fill="#ff0000" class="DB">2</text>
<text transform="translate(405.3,1502) scale(1.4719,1)" font-size="40.41" fill="#ff0000" class="DB">T</text>
<text transform="translate(443.72,1513) scale(1.5317,1)" font-size="28.9" fill="#ff0000" class="DB">1</text>
<text transform="translate(731.91,1570) scale(1.4761,1)" font-size="39.59" fill="#ff0000" class="DB">T</text>
<text transform="translate(771.62,1579.1) scale(1.5999,1)" font-size="27.67" fill="#ff0000" class="DB">1</text>
<text transform="translate(832.52,1358) scale(1.3935,1)" font-size="40.55" fill="#ff0000" class="DB">T</text>
<text transform="translate(870.94,1366) scale(1.6271,1)" font-size="26.93" fill="#ff0000" class="DB">3</text>
<text transform="translate(1052.31,1190.2) scale(1.4412,1)" font-size="40.55" fill="#ff0000" class="DB">T</text>
<text transform="translate(1089.96,1198.6) scale(1.7115,1)" font-size="27.34" fill="#ff0000" class="DB">2</text>
<text transform="translate(1265.03,1514.09) scale(1.8590,1)" font-size="37.3" fill="#ff0000" class="DB">Q</text>
<text transform="translate(1320.75,1526.4) scale(1.6298,1)" font-size="27.21" fill="#ff0000" class="DB">2</text>
<text transform="translate(1507.45,1202.32) scale(1.8056,1)" font-size="37.07" fill="#ff0000" class="DB">Q</text>
<text transform="translate(1563.3,1212.4) scale(1.5469,1)" font-size="26.8" fill="#ff0000" class="DB">3</text>
<text transform="translate(1637.42,1426.61) scale(1.8180,1)" font-size="37.18" fill="#ff0000" class="DB">Q</text>
<text transform="translate(1694.81,1435.8) scale(1.4325,1)" font-size="27.81" fill="#ff0000" class="DB">4</text>
</svg>
</body></html>
